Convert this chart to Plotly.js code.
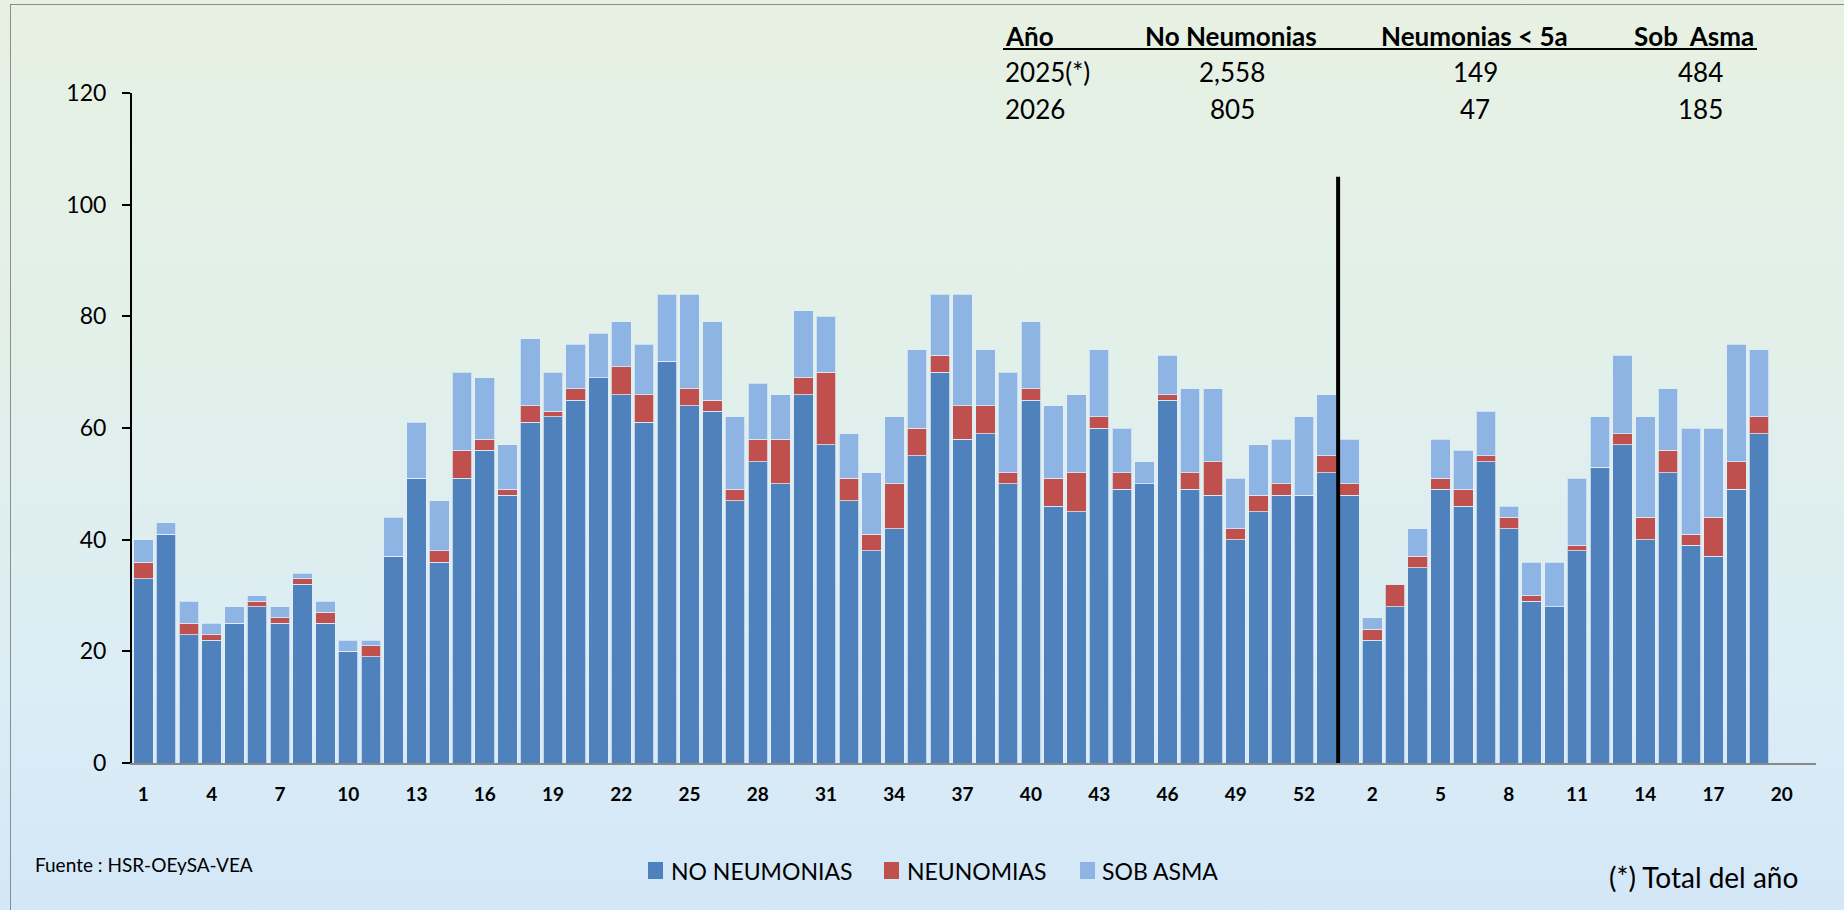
<!DOCTYPE html>
<html>
<head>
<meta charset="utf-8">
<script src="https://cdn.plot.ly/plotly-3.0.1.min.js"></script>
<style>
  html, body { margin: 0; padding: 0; }
  body {
    width: 1844px; height: 910px; overflow: hidden; position: relative;
    background: linear-gradient(to bottom, #e7f1e3 0%, #e2f0ea 40%, #dbedf5 75%, #d3e7f8 100%);
  }
  #frame {
    position: absolute; left: 10px; top: 4px; width: 1900px; height: 1000px;
    border-left: 1px solid #8c8c8c; border-top: 1px solid #8c8c8c; pointer-events: none;
  }
  #chart { position: absolute; left: 0; top: 0; width: 1844px; height: 910px; }
</style>
</head>
<body>
<div id="frame"></div>
<div id="chart"></div>
<script>
// ---- Data ----
const semanas2025 = [1,2,3,4,5,6,7,8,9,10,11,12,13,14,15,16,17,18,19,20,21,22,23,24,25,26,27,28,29,30,31,32,33,34,35,36,37,38,39,40,41,42,43,44,45,46,47,48,49,50,51,52,53];
const semanas2026 = [1,2,3,4,5,6,7,8,9,10,11,12,13,14,15,16,17,18,19,20,21];

const noNeumonias2025 = [33,41,23,22,25,28,25,32,25,20, 19,37,51,36,51,56,48,61,62,65, 69,66,61,72,64,63,47,54,50,66, 57,47,38,42,55,70,58,59,50,65, 46,45,60,49,50,65,49,48,40,45, 48,48,52];
const neumonias2025   = [3,0,2,1,0,1,1,1,2,0, 2,0,0,2,5,2,1,3,1,2, 0,5,5,0,3,2,2,4,8,3, 13,4,3,8,5,3,6,5,2,2, 5,7,2,3,0,1,3,6,2,3, 2,0,3];
const sobAsma2025     = [4,2,4,2,3,1,2,1,2,2, 1,7,10,9,14,11,8,12,7,8, 8,8,9,12,17,14,13,10,8,12, 10,8,11,12,14,11,20,10,18,12, 13,14,12,8,4,7,15,13,9,9, 8,14,11];

const noNeumonias2026 = [48,22,28,35,49,46,54,42,29,28, 38,53,57,40,52,39,37,49,59];
const neumonias2026   = [2,2,4,2,2,3,1,2,1,0, 1,0,2,4,4,2,7,5,3];
const sobAsma2026     = [8,2,0,5,7,7,8,2,6,8, 12,9,14,18,11,19,16,21,12];

const seriesNames = ['NO NEUMONIAS', 'NEUNOMIAS', 'SOB ASMA'];

const tablaHeader = ['Año', 'No Neumonias', 'Neumonias < 5a', 'Sob\u00a0 Asma'];
const tablaFilas = [
  ['2025(*)', '2,558', '149', '484'],
  ['2026', '805', '47', '185']
];
const fuente = 'Fuente : HSR-OEySA-VEA';
const notaTotal = '(*) Total del año';

// ---- Build categories ----
const cat2025 = semanas2025.map(w => '2025-' + w);
const cat2026 = semanas2026.map(w => '2026-' + w);
const allCats = cat2025.concat(cat2026);
const allWeeks = semanas2025.concat(semanas2026);
const xData = cat2025.concat(cat2026.slice(0, noNeumonias2026.length));

const tickvals = allCats.filter((c, i) => i % 3 === 0);
const ticktext = allWeeks.filter((w, i) => i % 3 === 0).map(String);

const colors = ['#4f81bd', '#c0504d', '#8eb4e3'];
const ys = [
  noNeumonias2025.concat(noNeumonias2026),
  neumonias2025.concat(neumonias2026),
  sobAsma2025.concat(sobAsma2026)
];

const traces = ys.map((y, k) => ({
  type: 'bar',
  name: seriesNames[k],
  x: xData,
  y: y,
  marker: { color: colors[k], line: { color: 'rgba(225,238,250,0.75)', width: 1 } },
  hoverinfo: 'x+y+name'
}));

// pixel helpers (plot area: left 132, right 1816, top 93, bottom 763)
const L = 132, R = 1816, T = 93, B = 763;
const px = v => (v - L) / (R - L);
const py = v => (B - v) / (B - T);

const FONT = 'Lato, "Open Sans", sans-serif';
const annotations = [];
const shapes = [];

// summary table
const headerX = [1003, 1231, 1474, 1756];
const headerAnchor = ['left', 'center', 'center', 'right'];
tablaHeader.forEach((t, i) => annotations.push({
  xref: 'paper', yref: 'paper', x: px(headerX[i]), y: py(36),
  xanchor: headerAnchor[i], yanchor: 'middle', showarrow: false,
  text: '<b>' + t + '</b>', font: { family: FONT, size: 26, color: '#000' }
}));
const colX = [1003, 1232, 1475, 1700];
const colAnchor = ['left', 'center', 'center', 'center'];
const rowY = [72, 109];
tablaFilas.forEach((fila, r) => fila.forEach((t, i) => annotations.push({
  xref: 'paper', yref: 'paper', x: px(colX[i]), y: py(rowY[r]),
  xanchor: colAnchor[i], yanchor: 'middle', showarrow: false,
  text: t, font: { family: FONT, size: 26, color: '#000' }
})));
shapes.push({ type: 'line', xref: 'paper', yref: 'paper', x0: px(1003), x1: px(1757), y0: py(49), y1: py(49),
  line: { color: '#000', width: 2 } });

// footnotes
annotations.push({
  xref: 'paper', yref: 'paper', x: px(33), y: py(864), xanchor: 'left', yanchor: 'middle',
  showarrow: false, text: fuente, font: { family: FONT, size: 19, color: '#000' }
});
annotations.push({
  xref: 'paper', yref: 'paper', x: px(1800), y: py(877), xanchor: 'right', yanchor: 'middle',
  showarrow: false, text: notaTotal, font: { family: FONT, size: 28, color: '#000' }
});

// custom legend (swatch + label)
const legSwatchX = [648, 884, 1080];
const legTextX = [669, 905, 1100];
seriesNames.forEach((n, k) => {
  shapes.push({ type: 'rect', xref: 'paper', yref: 'paper',
    x0: px(legSwatchX[k]), x1: px(legSwatchX[k] + 15), y0: py(879), y1: py(862),
    fillcolor: colors[k], line: { width: 0 } });
  annotations.push({ xref: 'paper', yref: 'paper', x: px(legTextX[k]), y: py(871),
    xanchor: 'left', yanchor: 'middle', showarrow: false, text: n,
    font: { family: FONT, size: 23, color: '#000' } });
});

// separator between years
shapes.push({ type: 'line', xref: 'x', yref: 'y', x0: cat2025.length - 0.5, x1: cat2025.length - 0.5, y0: 0, y1: 105,
  line: { color: '#000', width: 4 } });

const layout = {
  width: 1844, height: 910,
  margin: { l: L, r: 1844 - R, t: T, b: 910 - B, pad: 0 },
  paper_bgcolor: 'rgba(0,0,0,0)', plot_bgcolor: 'rgba(0,0,0,0)',
  barmode: 'stack', bargap: 0.14,
  font: { family: FONT, color: '#000' },
  showlegend: false,
  xaxis: {
    type: 'category', categoryorder: 'array', categoryarray: allCats,
    range: [-0.5, allCats.length - 0.5],
    tickmode: 'array', tickvals: tickvals, ticktext: ticktext,
    showline: true, linecolor: '#898989', linewidth: 2,
    ticks: '', showgrid: false, zeroline: false,
    tickfont: { family: FONT, size: 19, color: '#000', weight: 'bold' },
    ticklabelstandoff: 13, fixedrange: true
  },
  yaxis: {
    range: [0, 120], tickmode: 'array', tickvals: [0, 20, 40, 60, 80, 100, 120],
    showline: true, linecolor: '#000', linewidth: 2,
    ticks: 'outside', ticklen: 8, tickwidth: 2, tickcolor: '#000',
    showgrid: false, zeroline: false,
    tickfont: { family: FONT, size: 23, color: '#000' },
    ticklabelstandoff: 11, fixedrange: true
  },
  annotations: annotations,
  shapes: shapes
};

Plotly.newPlot('chart', traces, layout, { displayModeBar: false, staticPlot: true });
</script>
</body>
</html>
